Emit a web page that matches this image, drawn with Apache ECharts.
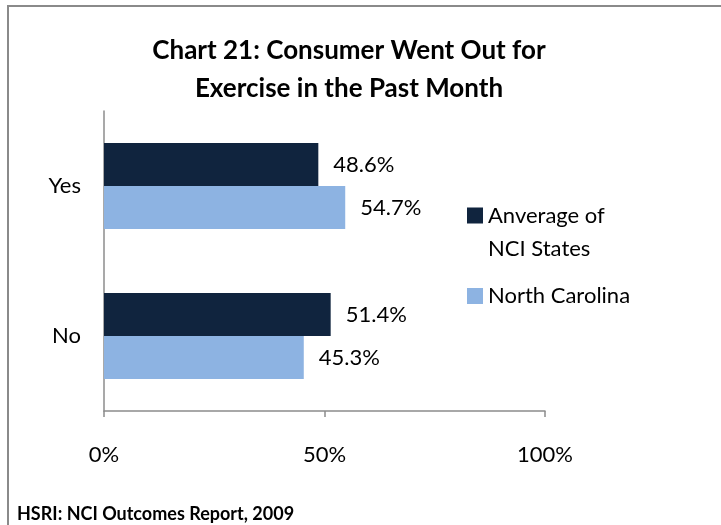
<!DOCTYPE html>
<html>
<head>
<meta charset="utf-8">
<script src="https://cdn.jsdelivr.net/npm/echarts@6/dist/echarts.min.js"></script>
<style>
    html, body { margin: 0; padding: 0; background: #fff; }
    #wrapper { position: relative; width: 721px; height: 525px; }
    #chart { width: 721px; height: 525px; }
    .frame {
        position: absolute; left: 7px; top: 5px; right: -5px; bottom: -5px;
        border-left: 2px solid #8a8a8a; border-top: 2px solid #8a8a8a;
        pointer-events: none;
    }
</style>
</head>
<body>
<div id="wrapper">
    <div id="chart"></div>
    <div class="frame"></div>
</div>
<script>
const categories = ['Yes', 'No'];
const nciAverage = [48.6, 51.4];
const northCarolina = [54.7, 45.3];
const tickLabels = ['0%', '50%', '100%'];
const seriesNames = ['Anverage of NCI States', 'North Carolina'];

const font = 'Lato, "Open Sans", sans-serif';
var myChart = echarts.init(document.getElementById('chart'));

// square at the top of a tall box, so the icon sits on the first text line
const topSquare = 'path://M0,0L16,0L16,16L0,16ZM0,49L0.01,49L0.01,48.99Z';

var option = {
    animation: false,
    textStyle: { fontFamily: font },
    title: [
        {
            text: 'Chart 21: Consumer Went Out for\nExercise in the Past Month',
            left: 344,
            top: 27,
            textAlign: 'center',
            textStyle: { fontSize: 26, fontWeight: 'bold', color: '#000', lineHeight: 38, fontFamily: font }
        },
        {
            text: 'HSRI: NCI Outcomes Report, 2009',
            left: 12,
            top: 500,
            textStyle: { fontSize: 18, fontWeight: 'bold', color: '#000', fontFamily: font }
        }
    ],
    legend: [
        {
            data: [{ name: seriesNames[0], icon: topSquare }],
            left: 467, top: 199, padding: 0,
            itemWidth: 16, itemHeight: 49,
            formatter: function () { return 'Anverage of\nNCI States'; },
            textStyle: { fontSize: 22, color: '#000', lineHeight: 33, fontFamily: font }
        },
        {
            data: [seriesNames[1]],
            left: 467, top: 285, padding: 0,
            itemWidth: 16, itemHeight: 16,
            icon: 'rect',
            textStyle: { fontSize: 22, color: '#000', fontFamily: font }
        }
    ],
    grid: { left: 104, right: 176, top: 111, bottom: 114, containLabel: false },
    xAxis: {
        type: 'value',
        min: 0, max: 100, interval: 50,
        axisLine: { show: true, lineStyle: { color: '#8c8c8c', width: 1.5 } },
        axisTick: { show: true, length: 6, lineStyle: { color: '#8c8c8c', width: 1.5 } },
        splitLine: { show: false },
        axisLabel: {
            margin: 33, fontSize: 22, color: '#000',
            formatter: function (v) { return tickLabels[v / 50]; }
        }
    },
    yAxis: {
        type: 'category',
        data: categories,
        inverse: true,
        axisLine: { lineStyle: { color: '#8c8c8c', width: 1.5 } },
        axisTick: { length: 8, lineStyle: { color: '#8c8c8c', width: 1.5 } },
        axisLabel: { margin: 23, fontSize: 22, color: '#000' }
    },
    series: [
        {
            name: seriesNames[0],
            type: 'bar',
            data: nciAverage,
            barWidth: 43,
            barGap: '0%',
            itemStyle: { color: '#10243e' },
            label: { show: true, position: 'right', distance: 15, fontSize: 22, color: '#000', formatter: '{c}%' }
        },
        {
            name: seriesNames[1],
            type: 'bar',
            data: northCarolina,
            barWidth: 43,
            barGap: '0%',
            itemStyle: { color: '#8db3e2' },
            label: { show: true, position: 'right', distance: 15, fontSize: 22, color: '#000', formatter: '{c}%' }
        }
    ]
};

option && myChart.setOption(option);
</script>
</body>
</html>
